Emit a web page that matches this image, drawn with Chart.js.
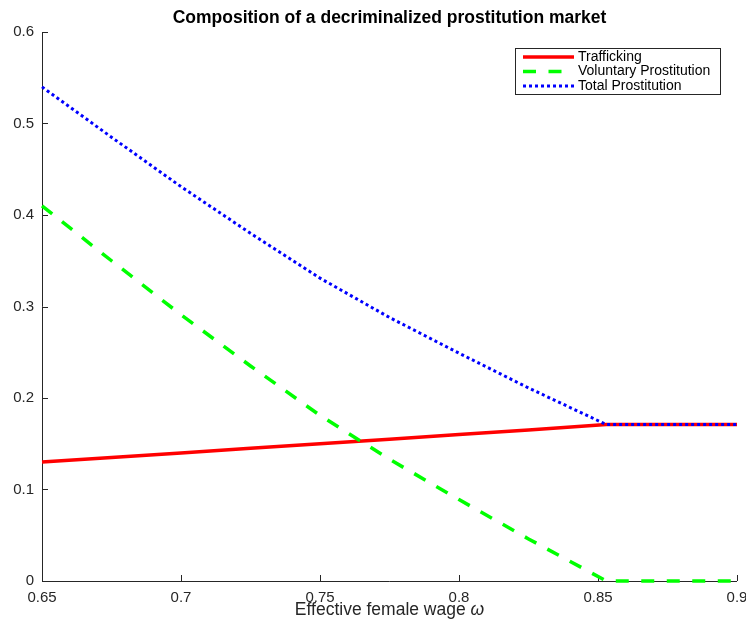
<!DOCTYPE html>
<html>
<head>
<meta charset="utf-8">
<script src="https://cdn.jsdelivr.net/npm/chart.js@4.4.1/dist/chart.umd.min.js"></script>
<style>
    html, body { margin: 0; padding: 0; background: #ffffff; }
    #wrap { width: 746px; height: 620px; }
</style>
</head>
<body>
<div id="wrap"><canvas id="market-chart" width="746" height="620"></canvas></div>
<script>
// Values
const wage = [0.65, 0.675, 0.7, 0.725, 0.75, 0.775, 0.8, 0.825, 0.853, 0.9];
const trafficking = [0.13, 0.135, 0.14, 0.145, 0.15, 0.155, 0.16, 0.165, 0.171, 0.171];
const voluntary = [0.41, 0.35, 0.291, 0.235, 0.181, 0.133, 0.089, 0.046, 0, 0];
const total = [0.54, 0.485, 0.431, 0.38, 0.331, 0.288, 0.249, 0.211, 0.171, 0.171];

const xTicks = [0.65, 0.7, 0.75, 0.8, 0.85, 0.9];
const yTicks = [0, 0.1, 0.2, 0.3, 0.4, 0.5, 0.6];

const titleText = 'Composition of a decriminalized prostitution market';
const xLabelText = 'Effective female wage ';
const xLabelSymbol = '\u03c9';

const FONT = '"Liberation Sans", Arial, Helvetica, sans-serif';
const AXIS_COLOR = '#262626';

function toPoints(values) {
    return wage.map((x, i) => ({ x: x, y: values[i] }));
}

function fmt(v) {
    return String(+v.toFixed(2));
}

// MATLAB-like axes: left + bottom lines with inward ticks, title, xlabel, legend box
const matlabLook = {
    id: 'matlabLook',
    beforeDatasetsDraw(chart) {
        const ctx = chart.ctx;
        const area = chart.chartArea;
        const xs = chart.scales.x;
        const ys = chart.scales.y;
        ctx.save();
        ctx.strokeStyle = AXIS_COLOR;
        ctx.lineWidth = 1;
        ctx.beginPath();
        ctx.moveTo(area.left + 0.5, area.top);
        ctx.lineTo(area.left + 0.5, area.bottom + 0.5);
        ctx.lineTo(area.right, area.bottom + 0.5);
        xTicks.forEach(v => {
            const px = Math.round(xs.getPixelForValue(v)) + 0.5;
            ctx.moveTo(px, area.bottom);
            ctx.lineTo(px, area.bottom - 6);
        });
        yTicks.forEach(v => {
            const py = Math.round(ys.getPixelForValue(v)) + 0.5;
            ctx.moveTo(area.left, py);
            ctx.lineTo(area.left + 6, py);
        });
        ctx.stroke();
        ctx.restore();
    },
    afterDraw(chart) {
        const ctx = chart.ctx;
        const area = chart.chartArea;
        const cx = (area.left + area.right) / 2;
        ctx.save();

        // title
        ctx.fillStyle = '#000000';
        ctx.font = 'bold 17.5px ' + FONT;
        ctx.textAlign = 'center';
        ctx.textBaseline = 'middle';
        ctx.fillText(titleText, cx, 18);

        // x axis label with italic omega
        ctx.fillStyle = AXIS_COLOR;
        ctx.font = '17.5px ' + FONT;
        const w1 = ctx.measureText(xLabelText).width;
        ctx.font = 'italic 17.5px ' + FONT;
        const w2 = ctx.measureText(xLabelSymbol).width;
        const start = cx - (w1 + w2) / 2;
        ctx.textAlign = 'left';
        ctx.textBaseline = 'alphabetic';
        ctx.font = '17.5px ' + FONT;
        ctx.fillText(xLabelText, start, 615);
        ctx.font = 'italic 17.5px ' + FONT;
        ctx.fillText(xLabelSymbol, start + w1, 615);

        // legend box
        const boxRight = area.right - 17;
        const boxLeft = boxRight - 205;
        const boxTop = area.top + 16;
        const rowH = 14.5;
        ctx.fillStyle = '#ffffff';
        ctx.fillRect(boxLeft, boxTop, boxRight - boxLeft, 46);
        ctx.strokeStyle = AXIS_COLOR;
        ctx.lineWidth = 1;
        ctx.strokeRect(boxLeft + 0.5, boxTop + 0.5, boxRight - boxLeft, 46);
        ctx.font = '14px ' + FONT;
        ctx.textBaseline = 'middle';
        ctx.textAlign = 'left';
        chart.data.datasets.forEach((ds, i) => {
            const y = boxTop + 9 + i * rowH;
            ctx.save();
            ctx.strokeStyle = ds.borderColor;
            ctx.lineWidth = ds.borderWidth;
            ctx.setLineDash(ds.borderDash || []);
            ctx.beginPath();
            ctx.moveTo(boxLeft + 8, y);
            ctx.lineTo(boxLeft + 59, y);
            ctx.stroke();
            ctx.restore();
            ctx.fillStyle = '#000000';
            ctx.fillText(ds.label, boxLeft + 63, y);
        });
        ctx.restore();
    }
};

const chart = new Chart(document.getElementById('market-chart').getContext('2d'), {
    type: 'line',
    data: {
        datasets: [
            {
                label: 'Trafficking',
                data: toPoints(trafficking),
                borderColor: '#ff0000',
                borderWidth: 3.5,
                order: 3
            },
            {
                label: 'Voluntary Prostitution',
                data: toPoints(voluntary),
                borderColor: '#00ff00',
                borderWidth: 3.5,
                borderDash: [13, 12.5],
                order: 2
            },
            {
                label: 'Total Prostitution',
                data: toPoints(total),
                borderColor: '#0000ff',
                borderWidth: 3,
                borderDash: [3, 3],
                order: 1
            }
        ]
    },
    options: {
        responsive: false,
        animation: false,
        devicePixelRatio: 1,
        layout: { padding: { top: 32, left: 0, right: 9, bottom: 0 } },
        elements: {
            point: { radius: 0, hoverRadius: 0 },
            line: { tension: 0, fill: false, borderCapStyle: 'butt' }
        },
        datasets: { line: { clip: false } },
        plugins: {
            legend: { display: false },
            title: { display: false },
            tooltip: { enabled: false }
        },
        scales: {
            x: {
                type: 'linear',
                min: 0.65,
                max: 0.9,
                grid: { display: false, drawTicks: false },
                border: { display: false },
                ticks: {
                    padding: 8,
                    color: AXIS_COLOR,
                    font: { family: FONT, size: 15 },
                    callback: v => fmt(v)
                },
                afterBuildTicks: s => { s.ticks = xTicks.map(v => ({ value: v })); },
                afterFit: s => { s.height = 39; s.paddingLeft = 0; s.paddingRight = 0; }
            },
            y: {
                min: 0,
                max: 0.6,
                grid: { display: false, drawTicks: false },
                border: { display: false },
                ticks: {
                    padding: 8,
                    color: AXIS_COLOR,
                    font: { family: FONT, size: 15 },
                    callback: v => fmt(v)
                },
                afterBuildTicks: s => { s.ticks = yTicks.map(v => ({ value: v })); },
                afterFit: s => { s.width = 42; s.paddingTop = 0; s.paddingBottom = 0; }
            }
        }
    },
    plugins: [matlabLook]
});
</script>
</body>
</html>
